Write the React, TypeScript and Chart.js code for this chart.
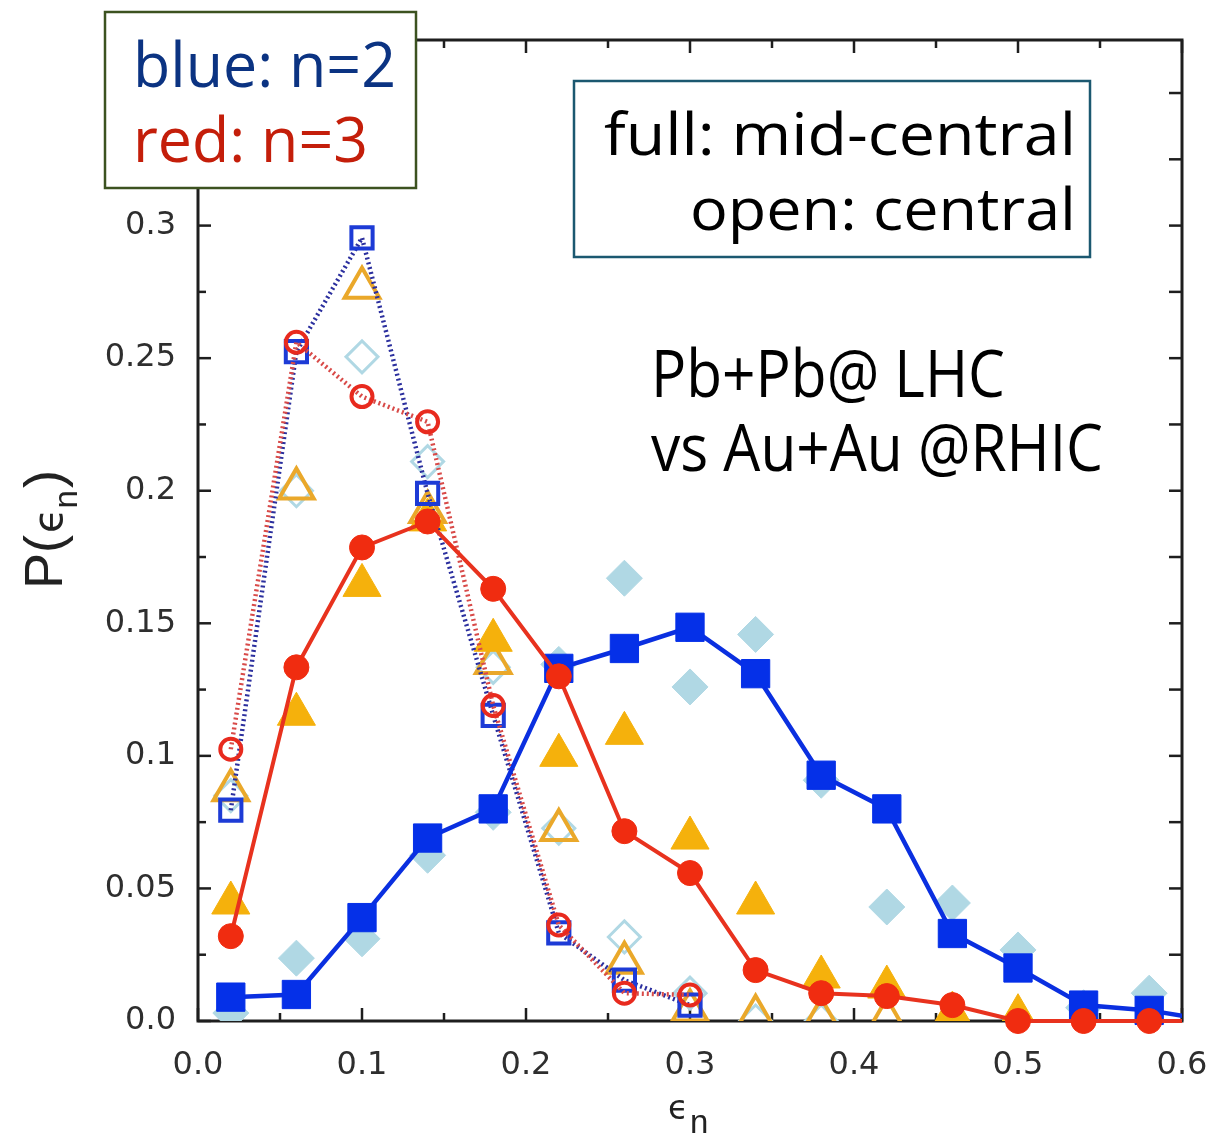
import React, { useEffect, useRef } from 'react';
import { Chart, registerables } from 'chart.js';

Chart.register(...registerables);

// ---- data ----
const epsBins = [0.02, 0.06, 0.10, 0.14, 0.18, 0.22, 0.26, 0.30, 0.34, 0.38, 0.42, 0.46, 0.50, 0.54, 0.58, 0.62];

// LHC Pb+Pb, mid-central (full symbols, solid lines)
const lhcN2Mid = [0.009, 0.010, 0.039, 0.069, 0.080, 0.133, 0.1405, 0.1485, 0.131, 0.0927, 0.080, 0.033, 0.020, 0.006, 0.004, 0.0];
const lhcN3Mid = [0.032, 0.1334, 0.1786, 0.1884, 0.163, 0.130, 0.0716, 0.0558, 0.0192, 0.0105, 0.0094, 0.006, 0.0, 0.0, 0.0, 0.0];
// LHC Pb+Pb, central (open symbols, dotted lines)
const lhcN2Central = [0.0795, 0.2525, 0.2954, 0.199, 0.1153, 0.0332, 0.0154, 0.006];
const lhcN3Central = [0.1025, 0.256, 0.2355, 0.226, 0.119, 0.0362, 0.0105, 0.0098];
// RHIC Au+Au (diamonds n=2, triangles n=3)
const rhicN2Mid = [0.003, 0.0237, 0.031, 0.0625, 0.0787, 0.1345, 0.167, 0.126, 0.1458, 0.0908, 0.043, 0.0445, 0.0268, 0.005, 0.0105];
const rhicN2Central = [0.085, 0.200, 0.2505, 0.211, 0.1334, 0.0727, 0.0317, 0.0105, 0.0, 0.0];
const rhicN3Mid = [0.0445, 0.1157, 0.1643, 0.189, 0.1436, 0.1002, 0.1085, 0.069, 0.0445, 0.0166, 0.0128, 0.003, 0.002, 0.001, 0.001];
const rhicN3Central = [0.087, 0.2008, 0.2766, 0.192, 0.135, 0.072, 0.022, 0.004, 0.002, 0.001, 0.001];

// ---- axes ----
const xTickValues = [0, 0.1, 0.2, 0.3, 0.4, 0.5, 0.6];
const xTickLabels = ['0.0', '0.1', '0.2', '0.3', '0.4', '0.5', '0.6'];
const xMinorTicks = [0.05, 0.15, 0.25, 0.35, 0.45, 0.55];
const yTickValues = [0, 0.05, 0.1, 0.15, 0.2, 0.25, 0.3, 0.35];
const yTickLabels = ['0.0', '0.05', '0.1', '0.15', '0.2', '0.25', '0.3', '0.35'];
const yMinorTicks = [0.025, 0.075, 0.125, 0.175, 0.225, 0.275, 0.325];
const xMin = 0, xMax = 0.6, yMin = 0, yMax = 0.37;

const W = 1211;
const H = 1136;

const TICK_FONT = '"DejaVu Sans", sans-serif';
const LABEL_FONT = '"Liberation Sans", Arial, "DejaVu Sans", sans-serif';
const TEXT_FONT = '"Open Sans", "Noto Sans", sans-serif';

const pts = (ys: number[]) => ys.map((y, i) => ({ x: epsBins[i], y }));

function fitText(ctx: CanvasRenderingContext2D, text: string, x: number, baseline: number, width: number, size: number, color: string, align: 'left' | 'right') {
  ctx.save();
  ctx.font = `${size}px ${TEXT_FONT}`;
  const w = ctx.measureText(text).width;
  const s = width / w;
  ctx.translate(align === 'right' ? x - width : x, baseline);
  ctx.scale(s, 1);
  ctx.fillStyle = color;
  ctx.textAlign = 'left';
  ctx.textBaseline = 'alphabetic';
  ctx.fillText(text, 0, 0);
  ctx.restore();
}

const decorPlugin = {
  id: 'decor',
  beforeDatasetsDraw(chart: any) {
    const { ctx, chartArea: a, scales } = chart;
    const xs = scales.x;
    const ys = scales.y;
    ctx.save();
    ctx.strokeStyle = '#1e1e1e';
    const seg = (x1: number, y1: number, x2: number, y2: number) => {
      ctx.beginPath();
      ctx.moveTo(x1, y1);
      ctx.lineTo(x2, y2);
      ctx.stroke();
    };
    ctx.lineWidth = 2.5;
    xTickValues.forEach((v) => {
      const p = xs.getPixelForValue(v);
      seg(p, a.bottom, p, a.bottom - 13);
      seg(p, a.top, p, a.top + 13);
    });
    xMinorTicks.forEach((v) => {
      const p = xs.getPixelForValue(v);
      seg(p, a.bottom, p, a.bottom - 8);
      seg(p, a.top, p, a.top + 8);
    });
    yTickValues.forEach((v) => {
      const p = ys.getPixelForValue(v);
      seg(a.left, p, a.left + 13, p);
      seg(a.right, p, a.right - 13, p);
    });
    yMinorTicks.forEach((v) => {
      const p = ys.getPixelForValue(v);
      seg(a.left, p, a.left + 8, p);
      seg(a.right, p, a.right - 13, p);
    });
    ctx.lineWidth = 3;
    ctx.strokeRect(a.left, a.top, a.right - a.left, a.bottom - a.top);
    ctx.restore();
  },
  afterDraw(chart: any) {
    const { ctx } = chart;
    ctx.save();
    // y-axis title P(εn), rotated
    ctx.fillStyle = '#222';
    ctx.translate(62, 589);
    ctx.rotate(-Math.PI / 2);
    ctx.textBaseline = 'alphabetic';
    ctx.textAlign = 'left';
    let cx = 0;
    ctx.font = `54px ${LABEL_FONT}`;
    ctx.fillText('P(', cx, 0);
    cx += ctx.measureText('P(').width + 2;
    ctx.font = `40px ${TICK_FONT}`;
    ctx.fillText('ϵ', cx, 0);
    cx += ctx.measureText('ϵ').width;
    ctx.font = `33px ${LABEL_FONT}`;
    ctx.fillText('n', cx, 15);
    cx += ctx.measureText('n').width + 2;
    ctx.font = `54px ${LABEL_FONT}`;
    ctx.fillText(')', cx, 0);
    ctx.restore();

    // x-axis title εn
    ctx.save();
    ctx.fillStyle = '#222';
    ctx.textBaseline = 'alphabetic';
    ctx.textAlign = 'left';
    ctx.font = `33px ${TICK_FONT}`;
    ctx.fillText('ϵ', 668, 1119);
    ctx.font = `33px ${LABEL_FONT}`;
    ctx.fillText('n', 690, 1133);
    ctx.restore();

    // annotation box 1
    ctx.save();
    ctx.fillStyle = '#ffffff';
    ctx.fillRect(105, 12, 311, 176);
    ctx.strokeStyle = '#3c5220';
    ctx.lineWidth = 2.5;
    ctx.strokeRect(105, 12, 311, 176);
    ctx.restore();
    fitText(ctx, 'blue: n=2', 133, 87, 263, 63, '#0b3382', 'left');
    fitText(ctx, 'red: n=3', 133, 162, 235, 63, '#c41e0a', 'left');

    // annotation box 2
    ctx.save();
    ctx.fillStyle = '#ffffff';
    ctx.fillRect(574, 81, 516, 176);
    ctx.strokeStyle = '#1b5870';
    ctx.lineWidth = 2.5;
    ctx.strokeRect(574, 81, 516, 176);
    ctx.restore();
    fitText(ctx, 'full: mid-central', 1076, 155, 472, 59, '#000000', 'right');
    fitText(ctx, 'open: central', 1076, 230, 386, 59, '#000000', 'right');

    // free text
    fitText(ctx, 'Pb+Pb@ LHC', 651, 397, 354, 66, '#000000', 'left');
    fitText(ctx, 'vs Au+Au @RHIC', 651, 471, 452, 66, '#000000', 'left');
  },
};

const clipRight = { left: 40, top: 40, right: 0, bottom: 40 };

export default function App() {
  const ref = useRef<HTMLCanvasElement | null>(null);

  useEffect(() => {
    if (!ref.current) return;
    const chart = new Chart(ref.current, {
      type: 'scatter',
      data: {
        datasets: [
          {
            label: 'n=3 mid-central (LHC)',
            data: pts(lhcN3Mid),
            showLine: true,
            borderColor: '#e8321e',
            borderWidth: 4,
            pointStyle: 'circle',
            pointRadius: 12.5,
            pointBackgroundColor: '#f02c10',
            pointBorderColor: '#f02c10',
            pointBorderWidth: 1,
            clip: clipRight,
          },
          {
            label: 'n=2 mid-central (LHC)',
            data: pts(lhcN2Mid),
            showLine: true,
            borderColor: '#0a2fe0',
            borderWidth: 4.5,
            pointStyle: 'rect',
            pointRadius: 20,
            pointBackgroundColor: '#0530e8',
            pointBorderColor: '#0530e8',
            pointBorderWidth: 1,
            clip: clipRight,
          },
          {
            label: 'n=3 central (LHC)',
            data: pts(lhcN3Central),
            showLine: true,
            borderColor: '#d84a48',
            borderWidth: 4.5,
            borderDash: [2, 3],
            pointStyle: 'circle',
            pointRadius: 10.5,
            pointBackgroundColor: 'rgba(0,0,0,0)',
            pointBorderColor: '#e82a1e',
            pointBorderWidth: 4,
          },
          {
            label: 'n=2 central (LHC)',
            data: pts(lhcN2Central),
            showLine: true,
            borderColor: '#2b2f9e',
            borderWidth: 4.5,
            borderDash: [2, 3],
            pointStyle: 'rect',
            pointRadius: 15,
            pointBackgroundColor: 'rgba(0,0,0,0)',
            pointBorderColor: '#1d3bd6',
            pointBorderWidth: 4,
          },
          {
            label: 'n=3 mid-central (RHIC)',
            data: pts(rhicN3Mid),
            showLine: false,
            pointStyle: 'triangle',
            pointRadius: 22,
            pointBackgroundColor: '#f5b10c',
            pointBorderColor: '#f5b10c',
            pointBorderWidth: 1,
          },
          {
            label: 'n=3 central (RHIC)',
            data: pts(rhicN3Central),
            showLine: false,
            pointStyle: 'triangle',
            pointRadius: 20,
            pointBackgroundColor: 'rgba(0,0,0,0)',
            pointBorderColor: '#eaa82a',
            pointBorderWidth: 4,
          },
          {
            label: 'n=2 mid-central (RHIC)',
            data: pts(rhicN2Mid),
            showLine: false,
            pointStyle: 'rectRot',
            pointRadius: 18,
            pointBackgroundColor: '#b0d8e4',
            pointBorderColor: '#b0d8e4',
            pointBorderWidth: 1,
          },
          {
            label: 'n=2 central (RHIC)',
            data: pts(rhicN2Central),
            showLine: false,
            pointStyle: 'rectRot',
            pointRadius: 16,
            pointBackgroundColor: 'rgba(0,0,0,0)',
            pointBorderColor: '#b0d8e4',
            pointBorderWidth: 3,
          },
        ],
      },
      options: {
        animation: false,
        responsive: false,
        devicePixelRatio: 1,
        layout: { padding: { top: 40, right: 29, bottom: 0, left: 0 } },
        plugins: {
          legend: { display: false },
          tooltip: { enabled: false },
        },
        scales: {
          x: {
            type: 'linear',
            min: xMin,
            max: xMax,
            grid: { display: false, drawTicks: false },
            border: { display: false },
            afterBuildTicks: (scale: any) => {
              scale.ticks = xTickValues.map((v) => ({ value: v }));
            },
            afterFit: (scale: any) => {
              scale.height = 115;
              scale.paddingLeft = 0;
              scale.paddingRight = 0;
            },
            ticks: {
              padding: 25,
              color: '#2e2e2e',
              font: { family: TICK_FONT, size: 32 },
              maxRotation: 0,
              autoSkip: false,
              callback: (_v: any, i: number) => xTickLabels[i],
            },
          },
          y: {
            type: 'linear',
            min: yMin,
            max: yMax,
            grid: { display: false, drawTicks: false },
            border: { display: false },
            afterBuildTicks: (scale: any) => {
              scale.ticks = yTickValues.map((v) => ({ value: v }));
            },
            afterFit: (scale: any) => {
              scale.width = 198;
              scale.paddingTop = 0;
              scale.paddingBottom = 0;
            },
            ticks: {
              padding: 22,
              color: '#2e2e2e',
              font: { family: TICK_FONT, size: 32 },
              autoSkip: false,
              callback: (_v: any, i: number) => yTickLabels[i],
            },
          },
        },
      },
      plugins: [decorPlugin],
    } as any);
    return () => chart.destroy();
  }, []);

  return (
    <div style={{ position: 'fixed', left: 0, top: 0, width: W, height: H, background: '#fff' }}>
      <canvas ref={ref} width={W} height={H} style={{ width: W, height: H, display: 'block' }} />
    </div>
  );
}
